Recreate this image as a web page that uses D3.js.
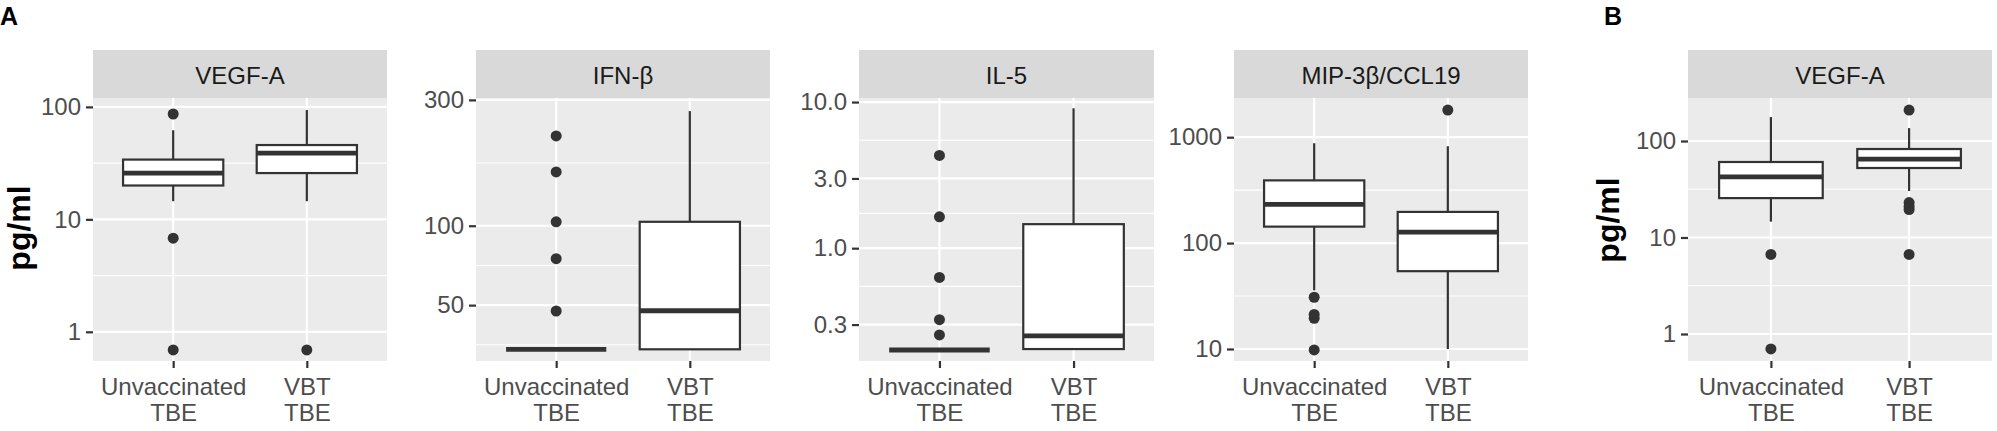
<!DOCTYPE html>
<html>
<head>
<meta charset="utf-8">
<script src="https://cdn.jsdelivr.net/npm/d3@7"></script>
<style>
  body { margin: 0; background: #fff; }
  text { font-family: "Liberation Sans", Arial, sans-serif; }
</style>
</head>
<body>
<div id="chart"></div>
<script>
//groups on the x axis
const groups = ["Unvaccinated TBE", "VBT TBE"];

//panel titles
const titles = ["VEGF-A", "IFN-\u03b2", "IL-5", "MIP-3\u03b2/CCL19", "VEGF-A"];

//y tick values and labels per panel
const tickValues = [[1, 10, 100], [50, 100, 300], [0.3, 1, 3, 10], [10, 100, 1000], [1, 10, 100]];
const tickLabels = [["1", "10", "100"], ["50", "100", "300"], ["0.3", "1.0", "3.0", "10.0"], ["10", "100", "1000"], ["1", "10", "100"]];
const minorValues = [[3.16, 31.6], [35.4, 70.7, 173], [0.548, 1.73, 5.48], [31.6, 316], [3.16, 31.6]];
const yDomains = [[0.55, 120], [30.7, 305], [0.169, 10.66], [7.7, 2345], [0.525, 279]];

//box stats: [lower whisker, q1, median, q3, upper whisker]
const vegfA_box = [[14.5, 20, 25.8, 34, 62], [14.5, 25.8, 38.8, 45.8, 94]];
const vegfA_out = [[86.5, 6.8, 0.69], [0.69]];
const ifnb_box = [[34, 34, 34, 34, 34], [34, 34, 47.6, 103.5, 272]];
const ifnb_out = [[219, 160, 103.5, 75, 47.5], []];
const il5_box = [[0.201, 0.201, 0.201, 0.201, 0.201], [0.204, 0.204, 0.251, 1.46, 9.07]];
const il5_out = [[4.31, 1.64, 0.631, 0.324, 0.255], []];
const mip_box = [[35.8, 143, 232, 391, 877], [10, 54.3, 127, 197, 822]];
const mip_out = [[30.8, 21.2, 19.5, 9.8], [1803]];
const vegfB_box = [[14.6, 25.6, 42.4, 60.6, 177], [30.3, 52.5, 65, 82.6, 136]];
const vegfB_out = [[6.67, 0.70], [209, 23, 21, 19.5, 6.67]];

const boxes = [vegfA_box, ifnb_box, il5_box, mip_box, vegfB_box];
const outliers = [vegfA_out, ifnb_out, il5_out, mip_out, vegfB_out];

//layout of panels (pixels)
const panelX = [[93, 387], [476, 770], [859, 1154], [1234, 1528], [1688, 1992]];
const stripTop = 50, plotTop = 98, plotBottom = 361;

const svg = d3.select("#chart")
    .append("svg")
    .attr("width", 1997)
    .attr("height", 431);

panelX.forEach(function(px, i){

  const g = svg.append("g");

  const x = d3.scalePoint().domain(groups).range(px).padding(0.6);
  const y = d3.scaleLog().domain(yDomains[i]).range([plotBottom, plotTop]);
  const bw = x.step() * 0.75;

  //strip
  g.append("rect")
    .attr("x", px[0]).attr("y", stripTop)
    .attr("width", px[1] - px[0]).attr("height", plotTop - stripTop)
    .attr("fill", "#D9D9D9");
  g.append("text")
    .attr("x", (px[0] + px[1]) / 2).attr("y", 84)
    .attr("text-anchor", "middle")
    .attr("font-size", 24)
    .attr("fill", "#1A1A1A")
    .text(titles[i]);

  //panel background
  g.append("rect")
    .attr("x", px[0]).attr("y", plotTop)
    .attr("width", px[1] - px[0]).attr("height", plotBottom - plotTop)
    .attr("fill", "#EBEBEB");

  //grid lines
  g.selectAll(".minor").data(minorValues[i]).join("line")
    .attr("x1", px[0]).attr("x2", px[1])
    .attr("y1", d => y(d)).attr("y2", d => y(d))
    .attr("stroke", "#fff").attr("stroke-width", 1.1);
  g.selectAll(".major").data(tickValues[i]).join("line")
    .attr("x1", px[0]).attr("x2", px[1])
    .attr("y1", d => y(d)).attr("y2", d => y(d))
    .attr("stroke", "#fff").attr("stroke-width", 2.2);
  g.selectAll(".vgrid").data(groups).join("line")
    .attr("x1", d => x(d)).attr("x2", d => x(d))
    .attr("y1", plotTop).attr("y2", plotBottom)
    .attr("stroke", "#fff").attr("stroke-width", 2.2);

  //axes
  const yaxis = d3.axisLeft(y).tickValues(tickValues[i])
      .tickFormat((d, k) => tickLabels[i][k]).tickSize(7).tickPadding(5);
  const gy = g.append("g").attr("transform", `translate(${px[0]},0)`).call(yaxis);
  gy.select(".domain").remove();
  gy.selectAll(".tick line").attr("stroke", "#333").attr("stroke-width", 2.2);
  gy.selectAll(".tick text").attr("font-size", 24).attr("fill", "#4D4D4D")
    .attr("font-family", "Liberation Sans, Arial, sans-serif");

  const xaxis = d3.axisBottom(x).tickSize(7).tickFormat("");
  const gx = g.append("g").attr("transform", `translate(0,${plotBottom})`).call(xaxis);
  gx.select(".domain").remove();
  gx.selectAll(".tick line").attr("stroke", "#333").attr("stroke-width", 2.2);
  gx.selectAll(".tick").each(function(d){
    const words = d.split(" ");
    const t = d3.select(this).append("text")
      .attr("text-anchor", "middle")
      .attr("font-size", 24)
      .attr("fill", "#4D4D4D")
      .attr("font-family", "Liberation Sans, Arial, sans-serif");
    t.append("tspan").attr("x", 0).attr("y", 34).text(words[0]);
    t.append("tspan").attr("x", 0).attr("y", 60).text(words[1]);
  });

  //boxes
  groups.forEach(function(grp, j){
    const s = boxes[i][j];
    const cx = x(grp);
    const bg = g.append("g");

    //whiskers
    bg.append("line")
      .attr("x1", cx).attr("x2", cx)
      .attr("y1", y(s[4])).attr("y2", y(s[3]))
      .attr("stroke", "#333").attr("stroke-width", 2.2);
    bg.append("line")
      .attr("x1", cx).attr("x2", cx)
      .attr("y1", y(s[1])).attr("y2", y(s[0]))
      .attr("stroke", "#333").attr("stroke-width", 2.2);

    bg.append("rect")
      .attr("x", cx - bw / 2).attr("width", bw)
      .attr("y", y(s[3])).attr("height", y(s[1]) - y(s[3]))
      .attr("fill", "#fff").attr("stroke", "#333").attr("stroke-width", 2.2);

    bg.append("line")
      .attr("x1", cx - bw / 2).attr("x2", cx + bw / 2)
      .attr("y1", y(s[2])).attr("y2", y(s[2]))
      .attr("stroke", "#333").attr("stroke-width", 4.8);

    bg.selectAll("circle").data(outliers[i][j]).join("circle")
      .attr("cx", cx).attr("cy", d => y(d))
      .attr("r", 5.5)
      .attr("fill", "#333");
  });
});

//y axis titles
[[19, 228], [1608, 220]].forEach(function(p){
  svg.append("text")
    .attr("transform", `translate(${p[0]},${p[1]}) rotate(-90)`)
    .attr("text-anchor", "middle")
    .attr("dy", "0.35em")
    .attr("font-size", 32)
    .attr("font-weight", "bold")
    .attr("fill", "#000")
    .text("pg/ml");
});

//panel letters
svg.append("text").attr("x", 0).attr("y", 25)
  .attr("font-size", 25).attr("font-weight", "bold").text("A");
svg.append("text").attr("x", 1604).attr("y", 25)
  .attr("font-size", 25).attr("font-weight", "bold").text("B");
</script>
</body>
</html>
